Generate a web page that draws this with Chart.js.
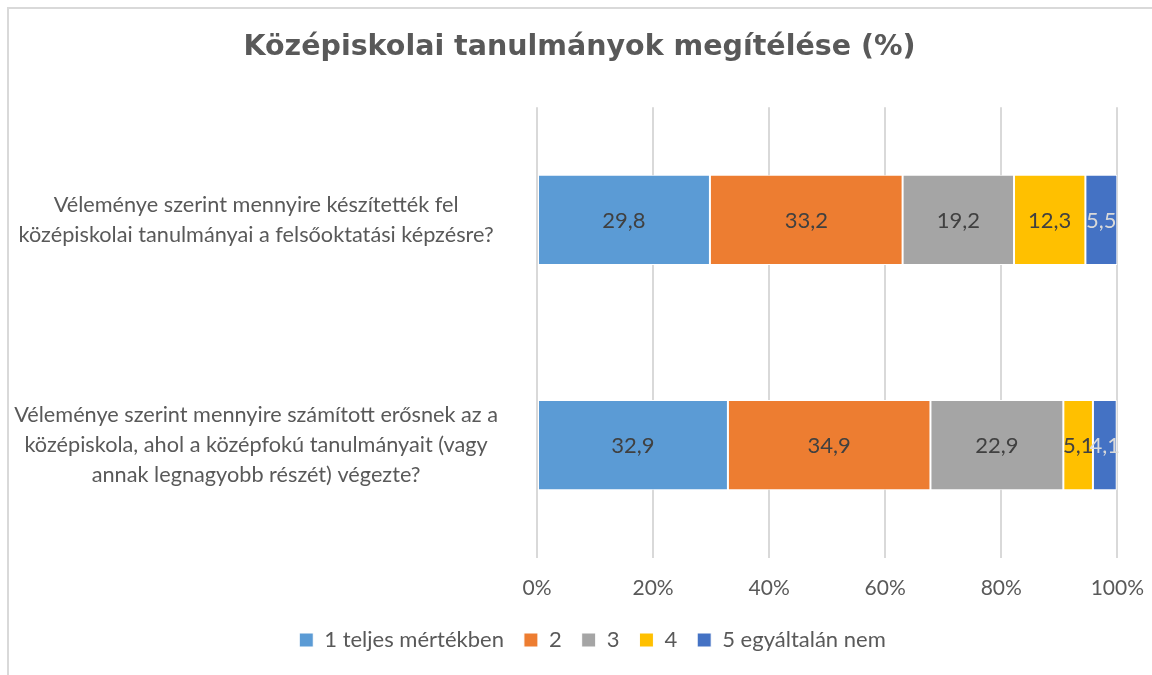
<!DOCTYPE html>
<html>
<head>
<meta charset="utf-8">
<script src="https://cdn.jsdelivr.net/npm/chart.js@4/dist/chart.umd.min.js"></script>
<style>
  html, body { margin: 0; padding: 0; background: #fff; }
  #wrap { position: relative; width: 1152px; height: 675px; overflow: hidden; }
  #frame { position: absolute; left: 7px; top: 7px; width: 1200px; height: 700px; border: 2px solid #d9d9d9; }
  canvas { position: absolute; left: 0; top: 0; }
</style>
</head>
<body>
<div id="wrap">
  <div id="frame"></div>
  <canvas id="chart" width="1152" height="675"></canvas>
</div>
<script>
var questions = [
  ["Véleménye szerint mennyire készítették fel", "középiskolai tanulmányai a felsőoktatási képzésre?"],
  ["Véleménye szerint mennyire számított erősnek az a", "középiskola, ahol a középfokú tanulmányait (vagy", "annak legnagyobb részét) végezte?"]
];
var seriesNames = ["1 teljes mértékben", "2", "3", "4", "5 egyáltalán nem"];
var seriesColors = ["#5b9bd5", "#ed7d31", "#a5a5a5", "#ffc000", "#4472c4"];
var labelColors = ["#404040", "#404040", "#404040", "#404040", "#d9d9d9"];
var answer1 = [29.8, 32.9];
var answer2 = [33.2, 34.9];
var answer3 = [19.2, 22.9];
var answer4 = [12.3, 5.1];
var answer5 = [5.5, 4.1];
var tickValues = [0, 20, 40, 60, 80, 100];

var textFont = "Lato, 'Open Sans', sans-serif";
var grey = "#595959";

var allValues = [answer1, answer2, answer3, answer4, answer5];
var datasets = allValues.map(function (vals, i) {
  return {
    label: seriesNames[i],
    data: vals,
    backgroundColor: seriesColors[i],
    borderColor: "#ffffff",
    borderWidth: 1,
    borderSkipped: false,
    categoryPercentage: 1,
    barPercentage: 0.4
  };
});

// draws the numbers in the middle of each segment
var valueLabels = {
  id: "valueLabels",
  afterDatasetsDraw: function (chart) {
    var ctx = chart.ctx;
    ctx.save();
    ctx.font = "22px " + textFont;
    ctx.textAlign = "center";
    ctx.textBaseline = "middle";
    chart.data.datasets.forEach(function (ds, i) {
      var meta = chart.getDatasetMeta(i);
      meta.data.forEach(function (bar, j) {
        ctx.fillStyle = labelColors[i];
        var cx = (bar.x + bar.base) / 2;
        ctx.fillText(ds.data[j].toFixed(1).replace(".", ","), cx, bar.y + 1);
      });
    });
    ctx.restore();
  }
};

// Excel centres title and legend on the whole frame, nudge them right a bit
var centreOnFrame = {
  id: "centreOnFrame",
  afterLayout: function (chart) {
    if (chart.titleBlock) { chart.titleBlock.left += 34; }
    if (chart.legend) { chart.legend.left += 30; chart.legend.right += 30; }
  }
};

new Chart(document.getElementById("chart"), {
  type: "bar",
  data: { labels: questions, datasets: datasets },
  plugins: [valueLabels, centreOnFrame],
  options: {
    indexAxis: "y",
    responsive: false,
    animation: false,
    layout: { padding: { top: 30, right: 27, bottom: 14, left: 0 } },
    plugins: {
      title: {
        display: true,
        text: "Középiskolai tanulmányok megítélése (%)",
        color: grey,
        font: { family: "'DejaVu Sans', Verdana, sans-serif", size: 28.5, weight: "bold" },
        padding: { top: 0, bottom: 43 }
      },
      legend: {
        position: "bottom",
        labels: {
          color: grey,
          font: { family: textFont, size: 22 },
          boxWidth: 14,
          boxHeight: 14,
          padding: 20
        }
      },
      tooltip: { enabled: false }
    },
    scales: {
      x: {
        stacked: true,
        min: 0,
        max: 100,
        afterBuildTicks: function (scale) {
          scale.ticks = tickValues.map(function (v) { return { value: v }; });
        },
        ticks: {
          color: grey,
          font: { family: textFont, size: 21 },
          padding: 8,
          callback: function (v) { return v + "%"; }
        },
        grid: { color: "#d9d9d9", lineWidth: 2, drawTicks: true, tickLength: 10, tickColor: "rgba(0,0,0,0)" },
        border: { display: false }
      },
      y: {
        stacked: true,
        afterFit: function (scale) { scale.width = 537; },
        ticks: {
          color: grey,
          font: { family: textFont, size: 21.7, lineHeight: 1.38 },
          crossAlign: "center",
          padding: 39
        },
        grid: { display: false, drawTicks: false },
        border: { display: false }
      }
    }
  }
});
</script>
</body>
</html>
